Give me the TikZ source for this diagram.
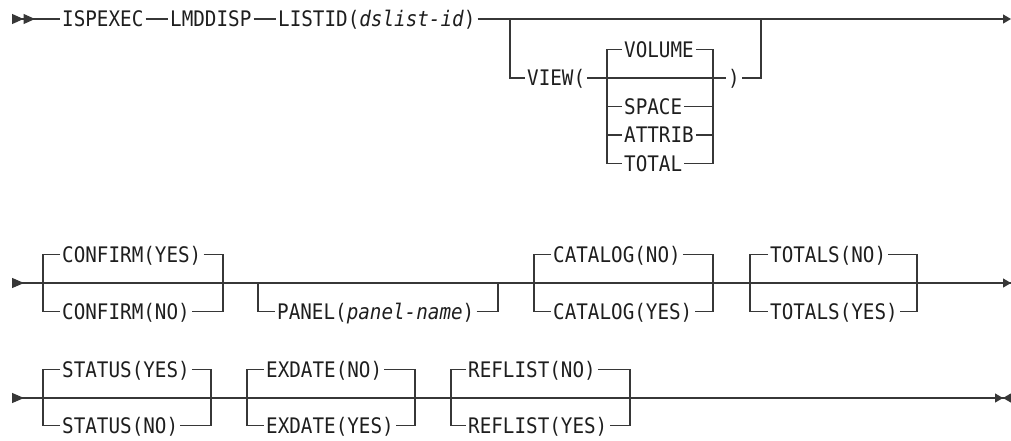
\documentclass[tikz,border=0pt]{standalone}
\usepackage{fontspec}
\setmonofont[FakeStretch=0.9]{DejaVu Sans Mono}
\usetikzlibrary{arrows.meta}
\definecolor{railgray}{RGB}{55,55,55}
\definecolor{railtext}{RGB}{30,30,30}
\tikzset{
  kw/.style={anchor=west, inner xsep=2pt, inner ysep=0pt,
    text height=15.6pt, text depth=0pt, text=railtext,
    font=\ttfamily\fontsize{21.4}{25}\selectfont},
  rail/.style={line width=1.2pt, color=railgray},
  railbegin/.style={rail, {Triangle[reversed,length=11.5pt,width=10pt]Triangle[reversed,length=11.5pt,width=10pt]}-},
  railcont/.style={rail, {Triangle[reversed,length=12pt,width=10pt]}-},
  railnext/.style={rail, -{Triangle[length=8pt,width=9pt]}},
  railend/.style={rail, -{Triangle[length=8pt,width=9pt]Triangle[reversed,length=8pt,width=9pt]}}
}

\begin{document}
\begin{tikzpicture}[x=1pt, y=-1pt]
  \useasboundingbox (0,0) rectangle (1011,440);
  \begin{scope}[yshift=4pt]

  % --- Line 1 ---
  \coordinate (s1) at (12,23);
  \coordinate (e1) at (1011,23);
  \node[kw] (ispexec) at (60,23) {ISPEXEC};
  \node[kw] (lmddisp) at (168,23) {LMDDISP};
  \node[kw] (listid) at (276,23) {LISTID(\textit{dslist-id})};
  \draw[railbegin] (s1) -- (ispexec);
  \draw[rail] (ispexec) -- (lmddisp);
  \draw[rail] (lmddisp) -- (listid);
  \draw[railnext] (listid) -- (e1);

  % VIEW( ... ) branch
  \coordinate (vwL) at (510,23);
  \coordinate (vwR) at (761,23);
  \coordinate (vlL) at (607,82);
  \coordinate (vlR) at (713,82);
  \node[kw] (view) at (525,82) {VIEW(};
  \node[kw] (close) at (726,82) {)};
  \node[kw] (volume) at (622,53.5) {VOLUME};
  \node[kw] (space) at (622,110.5) {SPACE};
  \node[kw] (attrib) at (622,139) {ATTRIB};
  \node[kw] (total) at (622,167.5) {TOTAL};
  \draw[rail] (vwL) |- (view.west);
  \draw[rail] (view) -- (close);
  \draw[rail] (close.east) -| (vwR);
  \draw[rail] (volume.west) -| (vlL) |- (total.west);
  \draw[rail] (volume.east) -| (vlR) |- (total.east);
  \draw[rail] (vlL |- space.west) -- (space.west);
  \draw[rail] (vlL |- attrib.west) -- (attrib.west);
  \draw[rail] (space.east) -- (vlR |- space.east);
  \draw[rail] (attrib.east) -- (vlR |- attrib.east);

  % --- Line 2 ---
  \coordinate (s2) at (12,287);
  \coordinate (e2) at (1011,287);
  \draw[railcont] (s2) -- (e2);
  % CONFIRM
  \coordinate (cfL) at (43,287);
  \coordinate (cfR) at (223,287);
  \node[kw] (cfyes) at (60,258.5) {CONFIRM(YES)};
  \node[kw] (cfno) at (60,315.5) {CONFIRM(NO)};
  \draw[rail] (cfyes.west) -| (cfL) |- (cfno.west);
  \draw[rail] (cfyes.east) -| (cfR) |- (cfno.east);
  % PANEL
  \coordinate (pnL) at (258,287);
  \coordinate (pnR) at (498,287);
  \node[kw] (panel) at (275,315.5) {PANEL(\textit{panel-name})};
  \draw[rail] (pnL) |- (panel.west);
  \draw[rail] (panel.east) -| (pnR);
  % CATALOG
  \coordinate (ctL) at (534,287);
  \coordinate (ctR) at (713,287);
  \node[kw] (ctno) at (551,258.5) {CATALOG(NO)};
  \node[kw] (ctyes) at (551,315.5) {CATALOG(YES)};
  \draw[rail] (ctno.west) -| (ctL) |- (ctyes.west);
  \draw[rail] (ctno.east) -| (ctR) |- (ctyes.east);
  % TOTALS
  \coordinate (toL) at (750,287);
  \coordinate (toR) at (917,287);
  \node[kw] (tono) at (768,258.5) {TOTALS(NO)};
  \node[kw] (toyes) at (768,315.5) {TOTALS(YES)};
  \draw[rail] (tono.west) -| (toL) |- (toyes.west);
  \draw[rail] (tono.east) -| (toR) |- (toyes.east);
  \draw[railnext] (toR) -- (e2);

  % --- Line 3 ---
  \coordinate (s3) at (12,402);
  \coordinate (e3) at (1011,402);
  \draw[railcont] (s3) -- (e3);
  % STATUS
  \coordinate (stL) at (43,402);
  \coordinate (stR) at (211,402);
  \node[kw] (styes) at (60,373.5) {STATUS(YES)};
  \node[kw] (stno) at (60,429.5) {STATUS(NO)};
  \draw[rail] (styes.west) -| (stL) |- (stno.west);
  \draw[rail] (styes.east) -| (stR) |- (stno.east);
  % EXDATE
  \coordinate (exL) at (247,402);
  \coordinate (exR) at (415,402);
  \node[kw] (exno) at (264,373.5) {EXDATE(NO)};
  \node[kw] (exyes) at (264,429.5) {EXDATE(YES)};
  \draw[rail] (exno.west) -| (exL) |- (exyes.west);
  \draw[rail] (exno.east) -| (exR) |- (exyes.east);
  % REFLIST
  \coordinate (rfL) at (451,402);
  \coordinate (rfR) at (630,402);
  \node[kw] (rfno) at (466,373.5) {REFLIST(NO)};
  \node[kw] (rfyes) at (466,429.5) {REFLIST(YES)};
  \draw[rail] (rfno.west) -| (rfL) |- (rfyes.west);
  \draw[rail] (rfno.east) -| (rfR) |- (rfyes.east);
  \draw[railend] (rfR) -- (e3);
  \end{scope}
\end{tikzpicture}
\end{document}
